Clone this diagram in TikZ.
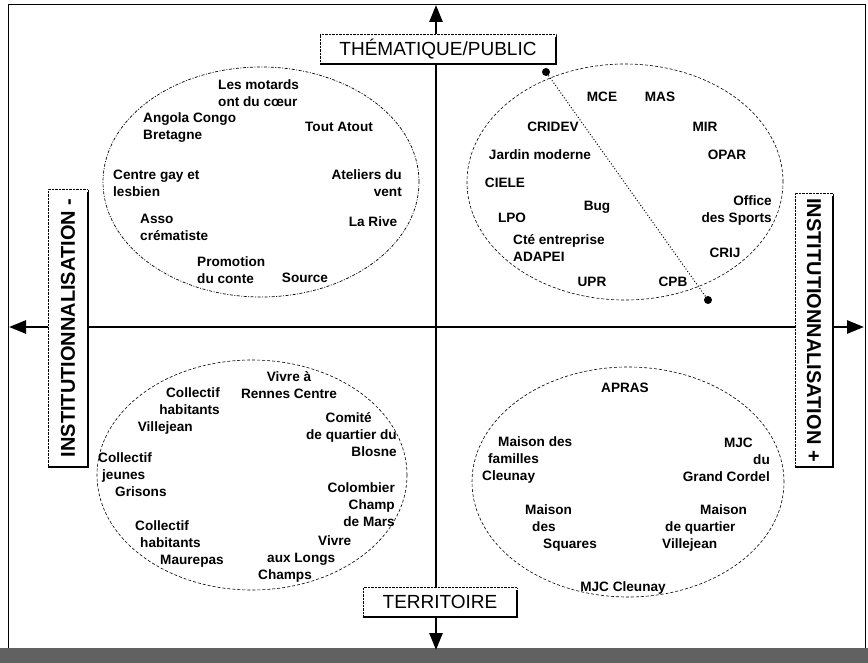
\documentclass[tikz,border=0pt]{standalone}
\usepackage{fontspec}
\setmainfont{Liberation Sans}
\usepackage{tikz}
\usetikzlibrary{arrows.meta, positioning}

\begin{document}
\begin{tikzpicture}[
  x=1pt, y=-1pt,
  actor/.style = {font=\bfseries\fontsize{13.6}{17}\selectfont, inner sep=0pt},
  axislabel/.style = {draw, densely dotted, thin, fill=white, inner sep=0pt},
  shadowline/.style = {line width=2.4pt},
  axis/.style = {line width=2.6pt, -{Triangle[width=13pt,length=17pt]}},
  zone/.style = {densely dashed, line width=0.6pt},
  enddot/.style = {circle, fill=black, inner sep=0pt, minimum size=8pt}
]
\useasboundingbox (0,0) rectangle (868,663);

% frame
\draw[line width=1pt] (8,5) rectangle (865,648);
\fill[black!62] (0,648) rectangle (868,663);

% axes
\coordinate (origin) at (436,327);
\coordinate (top) at (436,5);
\coordinate (bottom) at (436,650);
\coordinate (left) at (9,327);
\coordinate (right) at (864,327);
\draw[axis] (origin) -- (top);
\draw[axis] (origin) -- (bottom);
\draw[axis] (origin) -- (left);
\draw[axis] (origin) -- (right);

% axis labels
\node[axislabel, minimum width=236, minimum height=30, font=\fontsize{19}{22}\selectfont] (thema) at (438,49) {THÉMATIQUE/PUBLIC};
\node[axislabel, minimum width=154, minimum height=29, font=\fontsize{19}{22}\selectfont] (terr) at (440,602) {TERRITOIRE};
\node[axislabel, minimum width=40, minimum height=277, font=\bfseries\fontsize{20}{22}\selectfont] (instmoins) at (68,328) {\rotatebox{90}{INSTITUTIONNALISATION -}};
\node[axislabel, minimum width=38, minimum height=274, font=\bfseries\fontsize{20}{22}\selectfont] (instplus) at (814,330) {\rotatebox{-90}{INSTITUTIONNALISATION +}};
\foreach \b in {thema, terr, instmoins, instplus}
  \draw[shadowline] ([yshift=-3pt]\b.north east) -- (\b.south east) -- (\b.south west);

% zones
\draw[dash pattern=on 3pt off 1.5pt on 1pt off 1.5pt, line width=0.7pt] (261,182) ellipse [x radius=158pt, y radius=115pt];
\draw[zone] (625,182) ellipse [x radius=158pt, y radius=118pt];
\draw[zone] (252,475) ellipse [x radius=155pt, y radius=115pt];
\draw[zone] (628,482) ellipse [x radius=156pt, y radius=115pt];

% dividing line
\node[enddot] (d1) at (546,72) {};
\node[enddot] (d2) at (708,300) {};
\draw[dotted, line width=1pt] (d1) -- (d2);

% thematique, institutionnalisation -
\node[actor, align=left, anchor=west] (motards) at (218,93) {Les motards\\ont du cœur};
\node[actor, align=left, anchor=west] (angola) at (143,128) {Angola Congo\\Bretagne};
\node[actor] (toutatout) at (339,127) {Tout Atout};
\node[actor, align=left, anchor=west] (centregay) at (113,183) {Centre gay et\\lesbien};
\node[actor, align=right, anchor=east] (ateliers) at (402,183) {Ateliers du\\vent};
\node[actor, align=left, anchor=west] (asso) at (140,227) {Asso\\crématiste};
\node[actor] (larive) at (373,222) {La Rive};
\node[actor, align=left, anchor=west] (promotion) at (197,270) {Promotion\\du conte};
\node[actor] (source) at (305,278) {Source};

% thematique, institutionnalisation +
\node[actor] (mce) at (602,97) {MCE};
\node[actor] (mas) at (660,97) {MAS};
\node[actor] (cridev) at (553,127) {CRIDEV};
\node[actor] (mir) at (705,127) {MIR};
\node[actor] (jardin) at (540,155) {Jardin moderne};
\node[actor] (opar) at (727,155) {OPAR};
\node[actor] (ciele) at (505,183) {CIELE};
\node[actor] (bug) at (597,207) {Bug};
\node[actor] (lpo) at (512,218) {LPO};
\node[actor, align=right, anchor=east] (office) at (772,210) {Office\\des Sports};
\node[actor, align=left, anchor=west] (cte) at (513,248) {Cté entreprise\\ADAPEI};
\node[actor] (crij) at (725,253) {CRIJ};
\node[actor] (upr) at (592,282) {UPR};
\node[actor] (cpb) at (673,282) {CPB};

% territoire, institutionnalisation -
\node[actor, align=right, anchor=east] (villejean) at (220,411) {Collectif\\habitants\hspace*{10pt}\\Villejean\hspace*{27pt}};
\node[actor, align=center] (rennes) at (289,385) {Vivre à\\Rennes Centre};
\node[actor, align=right, anchor=east] (blosne) at (397,435) {Comité\hspace*{25pt}\\de quartier du\hspace*{10pt}\\Blosne};
\node[actor, align=left, anchor=west] (grisons) at (98,475) {Collectif\\\hspace*{4pt}jeunes\\\hspace*{17pt}Grisons};
\node[actor, align=right, anchor=east] (colombier) at (395,505) {Colombier\\Champ\\de Mars};
\node[actor, align=left, anchor=west] (maurepas) at (135,544) {Collectif\\\hspace*{5pt}habitants\\\hspace*{25pt}Maurepas};
\node[actor, align=left, anchor=west] (longs) at (258,559) {\hspace*{60pt}Vivre\\\hspace*{9pt}aux Longs\\Champs};

% territoire, institutionnalisation +
\node[actor] (apras) at (625,388) {APRAS};
\node[actor, align=left, anchor=west] (familles) at (482,460) {\hspace*{16pt}Maison des\\\hspace*{6pt}familles\\Cleunay};
\node[actor, align=right, anchor=east] (cordel) at (770,460) {MJC\hspace*{17pt}\\du\\Grand Cordel};
\node[actor, align=left, anchor=west] (squares) at (525,528) {Maison\\\hspace*{7pt}des\\\hspace*{18pt}Squares};
\node[actor, align=left, anchor=west] (quartier) at (662,528) {\hspace*{38pt}Maison\\\hspace*{3pt}de quartier\\Villejean};
\node[actor] (mjccleunay) at (623,588) {MJC Cleunay};

\end{tikzpicture}
\end{document}
